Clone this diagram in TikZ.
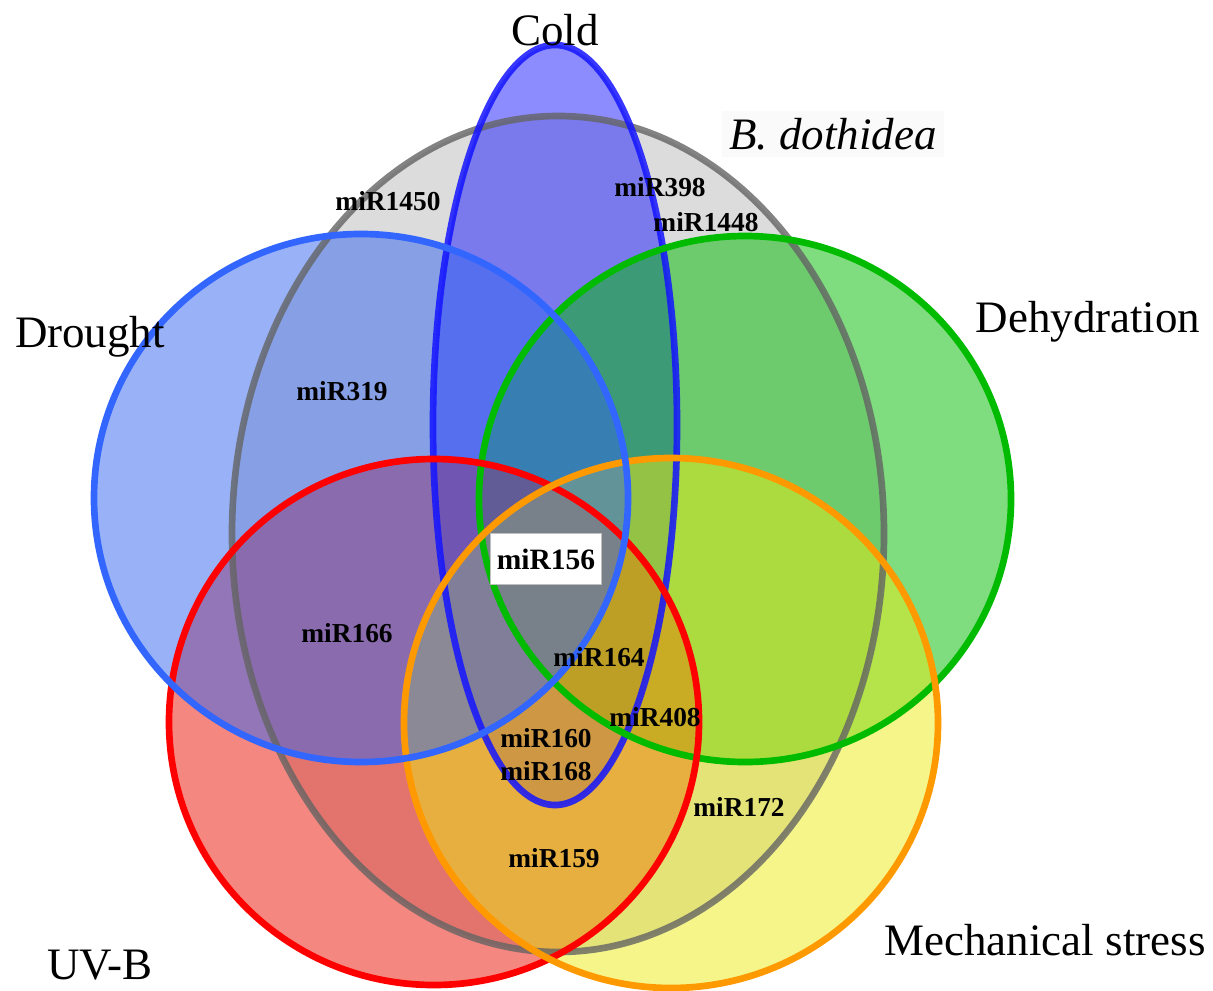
\documentclass[tikz,border=0pt]{standalone}
\usepackage{fontspec}
\setmainfont{Liberation Serif}
\usetikzlibrary{positioning}

\definecolor{bdfill}{RGB}{185,185,185}
\definecolor{bdline}{RGB}{100,100,100}
\definecolor{coldfill}{RGB}{25,25,255}
\definecolor{coldline}{RGB}{20,20,255}
\definecolor{drfill}{RGB}{51,102,240}
\definecolor{drline}{RGB}{51,102,255}
\definecolor{dhfill}{RGB}{0,187,0}
\definecolor{dhline}{RGB}{0,187,0}
\definecolor{uvfill}{RGB}{233,15,0}
\definecolor{uvline}{RGB}{255,0,0}
\definecolor{msfill}{RGB}{235,235,20}
\definecolor{msline}{RGB}{255,153,0}

\tikzset{
  setfill/.style={fill=#1,fill opacity=0.5},
  setline/.style={draw=#1,line width=3.8pt},
  biglabel/.style={font=\fontsize{25.6}{30}\selectfont,inner sep=0pt},
  mirlabel/.style={font=\fontsize{15.6}{18}\selectfont\bfseries,inner sep=1pt},
}

\begin{document}
\begin{tikzpicture}[x=0.02cm,y=-0.02cm]
\useasboundingbox (0,0) rectangle (1213,990);
% centres of the six sets
\coordinate (bd) at (558,534);
\coordinate (cold) at (555,425);
\coordinate (dh) at (745,499);
\coordinate (uv) at (434,722);
\coordinate (ms) at (671,723);
\coordinate (dr) at (361,498);
% fills
\fill[setfill=bdfill] (bd) ellipse [x radius=326,y radius=418];
\fill[setfill=coldfill] (cold) ellipse [x radius=122,y radius=380];
\fill[setfill=dhfill] (dh) ellipse [x radius=266,y radius=263];
\fill[setfill=uvfill] (uv) ellipse [x radius=265,y radius=263];
\fill[setfill=msfill] (ms) ellipse [x radius=267,y radius=265];
\fill[setfill=drfill] (dr) ellipse [x radius=267,y radius=264];
% outlines
\draw[setline=bdline,draw opacity=0.8] (bd) ellipse [x radius=326,y radius=418];
\draw[setline=coldline,draw opacity=0.85] (cold) ellipse [x radius=122,y radius=380];
\draw[setline=dhline] (dh) ellipse [x radius=266,y radius=263];
\draw[setline=uvline] (uv) ellipse [x radius=265,y radius=263];
\draw[setline=msline] (ms) ellipse [x radius=267,y radius=265];
\draw[setline=drline] (dr) ellipse [x radius=267,y radius=264];
% set names
\node(Cold) at (555,30) [biglabel]{Cold};
\node(Bd) at (833,134) [biglabel,fill=black!2,inner sep=4pt]{\itshape B. dothidea};
\node(Drought) at (90,337) [biglabel]{Drought};
\node(Dehyd) at (1088,322) [biglabel]{Dehydration};
\node(Mech) at (1045,940) [biglabel]{Mechanical stress};
\node(UVB) at (100,965) [biglabel]{UV-B};
% miRNAs
\node(m1450) at (388,201) [mirlabel]{miR1450};
\node(m398) at (660,187) [mirlabel]{miR398};
\node(m1448) at (706,222) [mirlabel]{miR1448};
\node(m319) at (342,391) [mirlabel]{miR319};
\node(m156) at (546,559) [mirlabel,font=\fontsize{16.8}{20}\selectfont\bfseries,fill=white,draw=black!25,line width=0.4pt,minimum width=111*0.02cm,minimum height=51*0.02cm]{miR156};
\node(m166) at (347,633) [mirlabel]{miR166};
\node(m164) at (599,657) [mirlabel]{miR164};
\node(m408) at (655,717) [mirlabel]{miR408};
\node(m160) at (546,738) [mirlabel]{miR160};
\node(m168) at (546,771) [mirlabel]{miR168};
\node(m172) at (739,807) [mirlabel]{miR172};
\node(m159) at (554,858) [mirlabel]{miR159};
\end{tikzpicture}
\end{document}
